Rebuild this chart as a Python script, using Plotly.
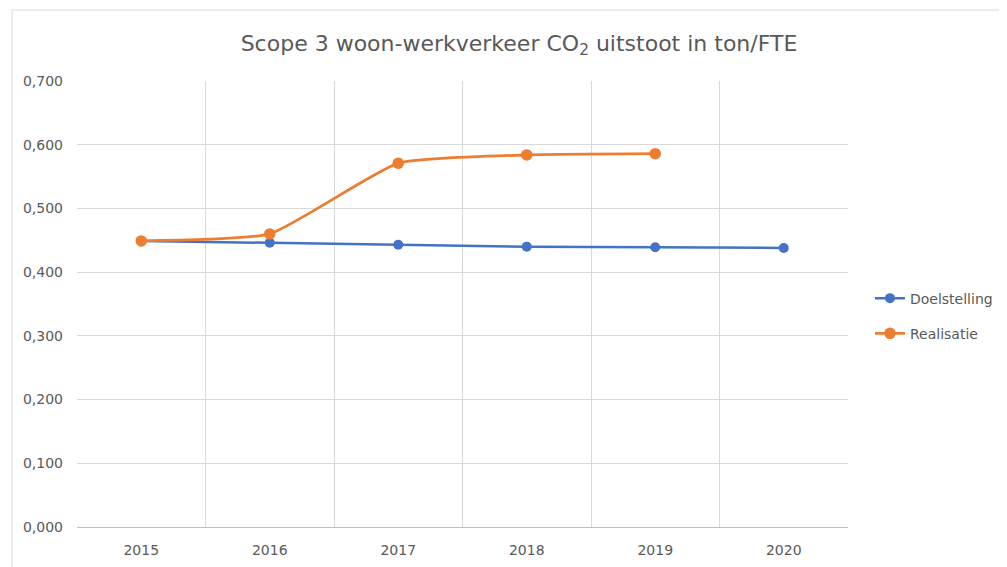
import plotly.graph_objects as go

years = ["2015", "2016", "2017", "2018", "2019", "2020"]
doelstelling = [0.449, 0.446, 0.443, 0.440, 0.439, 0.438]
realisatie_years = ["2015", "2016", "2017", "2018", "2019"]
realisatie = [0.449, 0.460, 0.571, 0.584, 0.586]

BLUE = "#4472C4"
ORANGE = "#ED7D31"
TXT = "#595959"
FONT = "DejaVu Sans"

# the page body adds an 8px offset; margins are chosen to compensate
L, T, R, B = 69, 73, 167, 48
W, H = 1007, 567
PW, PH = W - L - R, H - T - B

fig = go.Figure()
fig.add_trace(go.Scatter(
    x=years, y=doelstelling, name="Doelstelling", mode="lines+markers",
    legendgroup="a",
    line=dict(color=BLUE, width=2.5), marker=dict(size=10, color=BLUE),
))
fig.add_trace(go.Scatter(
    x=realisatie_years, y=realisatie, name="Realisatie", mode="lines+markers",
    legendgroup="b",
    line=dict(color=ORANGE, width=2.75, shape="spline", smoothing=0.45),
    marker=dict(size=11.5, color=ORANGE),
))

fig.update_layout(
    width=W, height=H,
    margin=dict(l=L, r=R, t=T, b=B),
    paper_bgcolor="white", plot_bgcolor="white",
    separators=",.",
    font=dict(family=FONT, size=14, color=TXT),
    title=dict(text="Scope 3 woon-werkverkeer CO<sub>2</sub> uitstoot in ton/FTE",
               x=511 / W, xanchor="center", xref="container",
               y=1 - 35 / H, yanchor="middle", yref="container",
               font=dict(family=FONT, size=22, color=TXT)),
    legend=dict(x=1.0285, y=0.473, xanchor="left", yanchor="middle",
                font=dict(family=FONT, size=14, color=TXT),
                tracegroupgap=14, bgcolor="rgba(0,0,0,0)"),
    showlegend=True,
    xaxis=dict(type="category", categoryorder="array", categoryarray=years,
               tickson="boundaries", showgrid=True, gridcolor="#D9D9D9", gridwidth=1,
               showline=True, linecolor="#BFBFBF", linewidth=1, ticks="",
               ticklabelstandoff=10, zeroline=False, range=[-0.5, 5.5]),
    yaxis=dict(range=[0, 0.7], dtick=0.1, tickformat=".3f", showgrid=True,
               gridcolor="#D9D9D9", gridwidth=1, zeroline=False, showline=False,
               ticks="", ticklabelstandoff=13),
    shapes=[dict(type="rect", xref="paper", yref="paper",
                 x0=(4 - L) / PW, x1=1.4, y0=-0.3, y1=(H - B - 2) / PH,
                 line=dict(color="#D9D9D9", width=1), fillcolor="rgba(0,0,0,0)", layer="below")],
)

fig.write_html("out.html")
